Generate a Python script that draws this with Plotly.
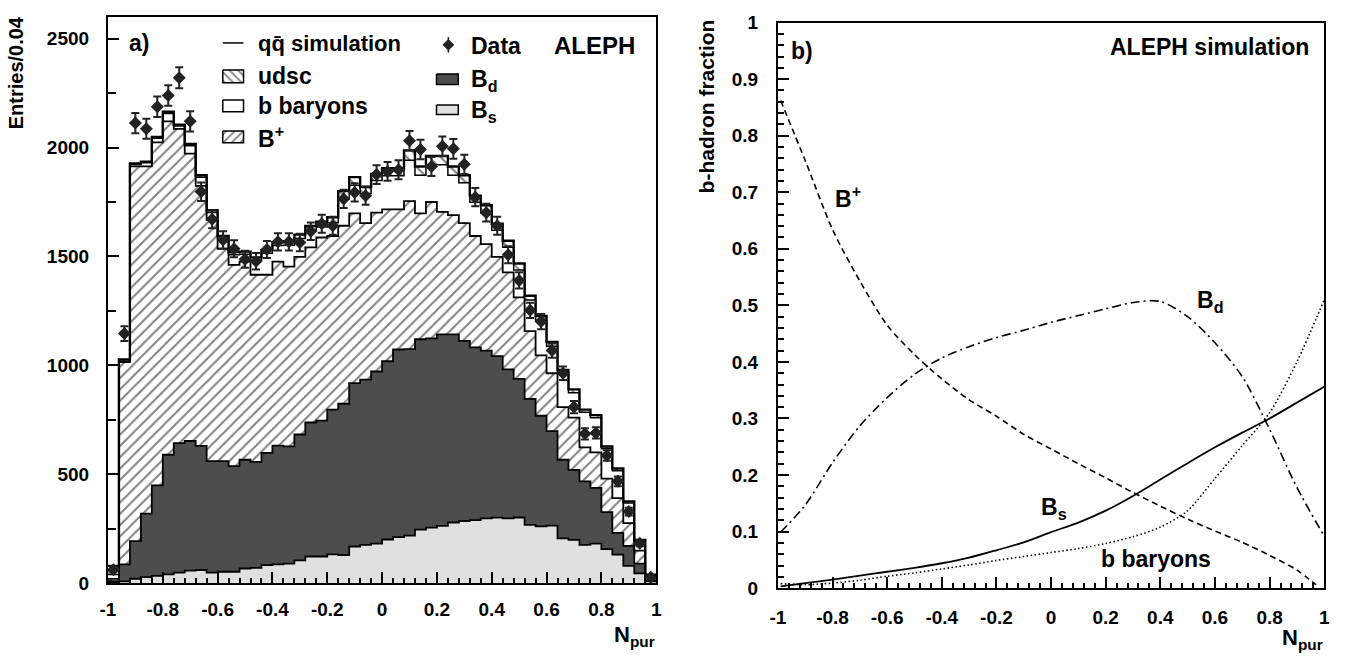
import numpy as np
import plotly.graph_objects as go

# ---------------- Panel a) : N_pur distribution (50 bins of 0.04 from -1 to 1) ----------------
bin_low, bin_width, n_bins = -1.0, 0.04, 50

n_Bs = [5, 9, 21, 28, 34, 41, 49, 58, 61, 49, 53, 53, 68, 71, 83, 87, 90, 105, 123, 123,
        133, 130, 169, 176, 182, 201, 212, 219, 246, 256, 264, 279, 286, 290, 298, 301, 298, 302, 268, 261,
        265, 206, 199, 176, 182, 157, 132, 80, 46, 9]
n_Bd = [5, 78, 173, 292, 415, 549, 594, 595, 570, 512, 508, 485, 499, 486, 516, 545, 538, 578, 615, 624,
        664, 694, 750, 759, 790, 818, 861, 856, 874, 868, 878, 863, 827, 793, 770, 742, 684, 636, 578, 508,
        433, 361, 321, 292, 256, 170, 99, 92, 44, 4]
n_Bplus = [10, 928, 1719, 1593, 1575, 1530, 1443, 1319, 1193, 1107, 974, 923, 909, 859, 817, 844, 825, 815, 804, 840,
           797, 817, 779, 718, 729, 697, 643, 679, 578, 626, 563, 548, 540, 511, 489, 455, 445, 374, 311, 277,
           266, 242, 240, 156, 163, 153, 160, 104, 60, 11]
n_bbaryons = [20, 4, 9, 17, 19, 36, 13, 36, 39, 34, 47, 47, 34, 65, 99, 74, 99, 84, 78, 48,
              61, 124, 129, 136, 148, 154, 154, 188, 175, 171, 216, 183, 185, 155, 143, 122, 115, 126, 143, 161,
              124, 155, 115, 161, 159, 138, 126, 92, 44, 12]
n_udsc = [40, 8, 5, 5, 6, 8, 6, 8, 10, 10, 12, 12, 12, 15, 15, 15, 18, 18, 20, 25,
          25, 35, 37, 30, 30, 35, 35, 45, 40, 40, 40, 40, 35, 30, 35, 30, 30, 30, 20, 20,
          20, 15, 15, 12, 12, 10, 10, 8, 5, 3]
n_data = [62, 1146, 2112, 2086, 2187, 2239, 2320, 2120, 1797, 1671, 1576, 1535, 1487, 1478, 1532, 1567, 1567, 1564, 1616, 1650,
          1641, 1764, 1794, 1779, 1876, 1890, 1898, 2031, 1991, 1913, 2006, 1994, 1923, 1772, 1701, 1641, 1508, 1390, 1253, 1201,
          1068, 964, 809, 686, 690, 587, 468, 329, 184, 28]
err_data = [8, 34, 46, 46, 47, 47, 48, 46, 42, 41, 40, 39, 39, 38, 39, 40, 40, 40, 40, 41,
            41, 42, 42, 42, 43, 43, 44, 45, 45, 44, 45, 45, 44, 42, 41, 41, 39, 37, 35, 35,
            33, 31, 28, 26, 26, 24, 22, 18, 14, 5]

x_tick_vals = [-1, -0.8, -0.6, -0.4, -0.2, 0, 0.2, 0.4, 0.6, 0.8, 1]
x_tick_text = ["-1", "-0.8", "-0.6", "-0.4", "-0.2", "0", "0.2", "0.4", "0.6", "0.8", "1"]
ya_tick_vals = [0, 500, 1000, 1500, 2000, 2500]
ya_tick_text = ["0", "500", "1000", "1500", "2000", "2500"]

# ---------------- Panel b) : b-hadron fractions ----------------
frac_x = [-0.99, -0.9, -0.8, -0.7, -0.6, -0.5, -0.4, -0.3, -0.2, -0.1, 0.0,
          0.1, 0.2, 0.3, 0.4, 0.5, 0.6, 0.7, 0.8, 0.9, 1.0]
frac_x_Bplus = [-0.99, -0.9, -0.8, -0.7, -0.6, -0.5, -0.4, -0.3, -0.2, -0.1, 0.0,
                0.1, 0.2, 0.3, 0.4, 0.5, 0.6, 0.7, 0.8, 0.9, 0.97]
frac_Bplus = [0.862, 0.756, 0.634, 0.543, 0.465, 0.413, 0.370, 0.333, 0.304, 0.272, 0.246,
              0.220, 0.195, 0.169, 0.145, 0.122, 0.101, 0.081, 0.058, 0.032, 0.006]
frac_Bd = [0.099, 0.147, 0.222, 0.287, 0.337, 0.378, 0.407, 0.427, 0.443, 0.456, 0.470,
           0.482, 0.494, 0.505, 0.507, 0.480, 0.434, 0.374, 0.281, 0.178, 0.092]
frac_Bs = [0.003, 0.009, 0.015, 0.022, 0.029, 0.036, 0.044, 0.054, 0.067, 0.081, 0.099,
           0.116, 0.137, 0.163, 0.192, 0.221, 0.249, 0.275, 0.300, 0.328, 0.356]
frac_bbaryons = [0.008, 0.006, 0.009, 0.014, 0.021, 0.027, 0.034, 0.041, 0.049, 0.056, 0.063,
                 0.070, 0.079, 0.091, 0.108, 0.137, 0.194, 0.252, 0.310, 0.400, 0.510]
yb_tick_vals = [0, 0.1, 0.2, 0.3, 0.4, 0.5, 0.6, 0.7, 0.8, 0.9, 1]
yb_tick_text = ["0", "0.1", "0.2", "0.3", "0.4", "0.5", "0.6", "0.7", "0.8", "0.9", "1"]

# ---------------- build ----------------
FONT = "Liberation Sans, Arial, Helvetica, sans-serif"
W, H = 1350, 665

edges = bin_low + bin_width * np.arange(n_bins + 1)
centers = edges[:-1] + bin_width / 2

layers = [n_Bs, n_Bd, n_Bplus, n_bbaryons, n_udsc]
cum = np.cumsum(np.array(layers, dtype=float), axis=0)


def step(vals):
    v = list(vals)
    return v + [v[-1]]


HATCH = dict(fgcolor="black", bgcolor="white", size=8, solidity=0.24)

fig = go.Figure()

# Bs (light grey)
fig.add_trace(go.Scatter(x=edges, y=step(cum[0]), mode="lines", line=dict(shape="hv", color="black", width=1.8),
                         fill="tozeroy", fillcolor="#e0e0e0", xaxis="x", yaxis="y", showlegend=False))
# Bd (dark grey)
fig.add_trace(go.Scatter(x=edges, y=step(cum[1]), mode="lines", line=dict(shape="hv", color="black", width=1.8),
                         fill="tonexty", fillcolor="#4d4d4d", xaxis="x", yaxis="y", showlegend=False))
# B+ (hatched /)
fig.add_trace(go.Scatter(x=edges, y=step(cum[2]), mode="lines", line=dict(shape="hv", color="black", width=1.8),
                         fill="tonexty", fillcolor="white", fillpattern=dict(shape="/", **HATCH),
                         xaxis="x", yaxis="y", showlegend=False))
# b baryons (white)
fig.add_trace(go.Scatter(x=edges, y=step(cum[3]), mode="lines", line=dict(shape="hv", color="black", width=1.5),
                         fill="tonexty", fillcolor="white", xaxis="x", yaxis="y", showlegend=False))
# udsc (hatched \) -> total q-qbar simulation
fig.add_trace(go.Scatter(x=edges, y=step(cum[4]), mode="lines", line=dict(shape="hv", color="black", width=2.4),
                         fill="tonexty", fillcolor="white", fillpattern=dict(shape="\\", **HATCH),
                         xaxis="x", yaxis="y", showlegend=False))
# data
fig.add_trace(go.Scatter(x=centers, y=n_data, mode="markers",
                         marker=dict(symbol="diamond", size=10, color="#222222"),
                         error_y=dict(type="data", array=err_data, color="#222222", thickness=2, width=4),
                         xaxis="x", yaxis="y", showlegend=False))

# panel b curves
fig.add_trace(go.Scatter(x=frac_x_Bplus, y=frac_Bplus, mode="lines",
                         line=dict(color="black", width=1.6, dash="6px,4px", shape="spline", smoothing=0.8),
                         xaxis="x2", yaxis="y2", showlegend=False))
fig.add_trace(go.Scatter(x=frac_x, y=frac_Bd, mode="lines",
                         line=dict(color="black", width=1.6, dash="9px,4px,2px,4px", shape="spline", smoothing=0.8),
                         xaxis="x2", yaxis="y2", showlegend=False))
fig.add_trace(go.Scatter(x=frac_x, y=frac_Bs, mode="lines",
                         line=dict(color="black", width=1.8, shape="spline", smoothing=0.8),
                         xaxis="x2", yaxis="y2", showlegend=False))
fig.add_trace(go.Scatter(x=frac_x, y=frac_bbaryons, mode="lines",
                         line=dict(color="black", width=1.6, dash="1.5px,2.5px", shape="spline", smoothing=0.8),
                         xaxis="x2", yaxis="y2", showlegend=False))


# legend swatches (overlay pixel axes x3/y3)
def box(x0, x1, y0, y1, **kw):
    return go.Scatter(x=[x0, x1, x1, x0, x0], y=[y0, y0, y1, y1, y0], mode="lines",
                      line=dict(color="black", width=1.5), fill="toself", xaxis="x3", yaxis="y3",
                      showlegend=False, hoverinfo="skip", **kw)


LHATCH = dict(fgcolor="black", bgcolor="white", size=6, solidity=0.28)
fig.add_trace(go.Scatter(x=[217, 238], y=[34, 34], mode="lines", line=dict(color="black", width=1.5),
                         xaxis="x3", yaxis="y3", showlegend=False))
fig.add_trace(box(217, 238, 62, 75, fillcolor="white", fillpattern=dict(shape="\\", **LHATCH)))
fig.add_trace(box(217, 238, 93, 105, fillcolor="white"))
fig.add_trace(box(217, 238, 125, 137, fillcolor="white", fillpattern=dict(shape="/", **LHATCH)))
fig.add_trace(box(433, 455, 66, 77, fillcolor="#4d4d4d"))
fig.add_trace(box(433, 455, 98, 108, fillcolor="#e0e0e0"))
fig.add_trace(go.Scatter(x=[445], y=[36], mode="markers", marker=dict(symbol="diamond", size=9, color="#222222"),
                         error_y=dict(type="constant", value=8, color="#222222", thickness=1.5, width=0),
                         xaxis="x3", yaxis="y3", showlegend=False))

tickfont = dict(family=FONT, size=19, color="black", weight="bold")
axis_common = dict(showline=True, mirror=True, linewidth=2, linecolor="black", ticks="inside",
                   tickwidth=1.5, tickcolor="black", showgrid=False, zeroline=False, tickfont=tickfont)

fig.update_layout(
    width=W, height=H, margin=dict(l=0, r=0, t=0, b=0),
    paper_bgcolor="white", plot_bgcolor="rgba(0,0,0,0)",
    xaxis=dict(domain=[101 / W, 655 / W], range=[-1, 1], anchor="y", tickmode="array",
               tickvals=x_tick_vals, ticktext=x_tick_text, ticklen=11, ticklabelstandoff=8,
               minor=dict(ticks="inside", ticklen=5, tickwidth=1.5, tickcolor="black", dtick=0.04, tick0=-1),
               **axis_common),
    yaxis=dict(domain=[(H - 592) / H, (H - 7) / H], range=[0, 2600], anchor="x", tickmode="array",
               tickvals=ya_tick_vals, ticktext=ya_tick_text, ticklen=11, ticklabelstandoff=13,
               minor=dict(ticks="inside", ticklen=8, tickwidth=1.5, tickcolor="black", dtick=250, tick0=0),
               **axis_common),
    xaxis2=dict(domain=[778 / W, 1330 / W], range=[-1, 1], anchor="y2", tickmode="array",
                tickvals=x_tick_vals, ticktext=x_tick_text, ticklen=11, ticklabelstandoff=11,
                minor=dict(ticks="inside", ticklen=5, tickwidth=1.5, tickcolor="black", dtick=0.04, tick0=-1),
                **axis_common),
    yaxis2=dict(domain=[(H - 597) / H, (H - 13) / H], range=[0, 1], anchor="x2", tickmode="array",
                tickvals=yb_tick_vals, ticktext=yb_tick_text, ticklen=11, ticklabelstandoff=14,
                minor=dict(ticks="inside", ticklen=6, tickwidth=1.5, tickcolor="black", dtick=0.02, tick0=0),
                **axis_common),
    xaxis3=dict(domain=[0, 1], range=[0, W], visible=False, anchor="y3", fixedrange=True),
    yaxis3=dict(domain=[0, 1], range=[H, 0], visible=False, anchor="x3", fixedrange=True),
)


def ann(x, y, text, size=23, xanchor="left", yanchor="middle", angle=0):
    fig.add_annotation(x=x, y=y, xref="x3", yref="y3", text=text, showarrow=False,
                       xanchor=xanchor, yanchor=yanchor, textangle=angle,
                       font=dict(family=FONT, size=size, color="black", weight="bold"))


# panel a texts
ann(120, 34, "a)")
ann(251, 35, "qq\u0304 simulation", size=22)
ann(251, 68, "udsc")
ann(251, 99, "b baryons")
ann(251, 131, "B<sup>+</sup>")
ann(466, 37, "Data")
ann(550, 37, "ALEPH", size=24)
ann(466, 73, "B<sub>d</sub>")
ann(466, 105, "B<sub>s</sub>")
ann(8, 4, "Entries/0.04", size=20, xanchor="center", yanchor="top", angle=-90)
ann(656, 646, "N<sub>pur</sub>", size=22, xanchor="right")

# panel b texts
ann(789, 42, "b)")
ann(1317, 38, "ALEPH simulation", xanchor="right")
ann(834, 193, "B<sup>+</sup>")
ann(1199, 301, "B<sub>d</sub>")
ann(1042, 515, "B<sub>s</sub>")
ann(1102, 567, "b baryons")
ann(706, 8, "b-hadron fraction", size=21, xanchor="center", yanchor="top", angle=-90)
ann(1331, 650, "N<sub>pur</sub>", size=22, xanchor="right")

fig.write_html("out.html")
